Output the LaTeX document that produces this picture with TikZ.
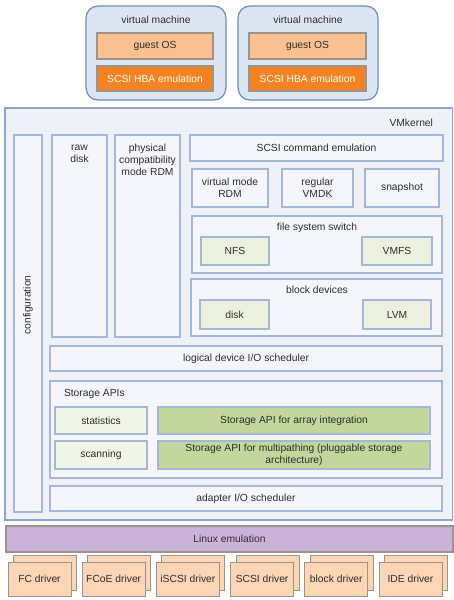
\documentclass[tikz,border=0pt]{standalone}
\usepackage{fontspec}
\setmainfont{Liberation Sans}
\definecolor{vmfill}{HTML}{DCE6F2}
\definecolor{vmdraw}{HTML}{6A8CC0}
\definecolor{kfill}{HTML}{EEF2F8}
\definecolor{kdraw}{HTML}{8EA7CF}
\definecolor{ifill}{HTML}{F4F6FB}
\definecolor{idraw}{HTML}{A3B7D8}
\definecolor{osfill}{HTML}{FAC08F}
\definecolor{hbafill}{HTML}{F58220}
\definecolor{grayd}{HTML}{9A948C}
\definecolor{lgfill}{HTML}{EBF1DE}
\definecolor{lgfill2}{HTML}{F1F5E8}
\definecolor{gfill}{HTML}{C3D69B}
\definecolor{pfill}{HTML}{CBB3D8}
\definecolor{drvfill}{HTML}{FCD5B5}
\definecolor{txt}{HTML}{2E2E2E}
\newcommand\bx[7]{\node[#6, minimum width={#4-#2}, minimum height={#5-#3}] (#1) at ({(#2+#4)/2},{(#3+#5)/2}) {#7};}
\tikzset{
  base/.style={inner sep=0pt, outer sep=0pt, align=center, text=txt, font=\fontsize{10.3}{11.8}\selectfont},
  vmbox/.style={base, fill=vmfill, draw=vmdraw, line width=1.2pt, rounded corners=12pt},
  kbox/.style={base, fill=kfill, draw=kdraw, line width=1.5pt},
  ibox/.style={base, fill=ifill, draw=idraw, line width=1.1pt},
  osbox/.style={base, fill=osfill, draw=grayd, line width=1.1pt},
  hbabox/.style={base, fill=hbafill, draw=grayd, line width=1.1pt, text=white},
  fsbox/.style={base, fill=lgfill, draw=idraw, line width=1.1pt},
  stbox/.style={base, fill=lgfill2, draw=idraw, line width=1.1pt},
  apibox/.style={base, fill=gfill, draw=idraw, line width=1.1pt},
  linbox/.style={base, fill=pfill, draw=grayd, line width=1.1pt},
  drvbox/.style={base, fill=drvfill, draw=grayd, line width=1pt},
  lbl/.style={base}
}
\begin{document}
\begin{tikzpicture}[x=1pt,y=-1pt]
\useasboundingbox (0,0) rectangle (454,600);
% virtual machines
\bx{vm1}{86}{6}{226}{100}{vmbox}{}
\node[lbl] (vm1l) at (156,20) {virtual machine};
\bx{os1}{97}{33}{213}{59}{osbox}{guest OS}
\bx{hba1}{97}{66}{213}{91}{hbabox}{SCSI HBA emulation}
\bx{vm2}{238}{6}{378}{100}{vmbox}{}
\node[lbl] (vm2l) at (308,20) {virtual machine};
\bx{os2}{249}{33}{366}{59}{osbox}{guest OS}
\bx{hba2}{249}{66}{366}{91}{hbabox}{SCSI HBA emulation}
% VMkernel
\bx{vmk}{5}{108}{452.5}{520}{kbox}{}
\node[lbl, anchor=east] (vmkl) at (433,123) {VMkernel};
\bx{conf}{14}{135}{42}{512}{ibox}{}
\node[lbl, rotate=90] (confl) at (28,305) {configuration};
\bx{raw}{52}{135}{107}{337}{ibox}{}
\node[lbl, anchor=north] (rawl) at (79.5,145) {raw\\disk};
\bx{phys}{115}{135}{180}{337}{ibox}{}
\node[lbl, anchor=north] (physl) at (147.5,144) {physical\\compatibility\\mode RDM};
\bx{scsi}{190}{135}{443}{161}{ibox}{SCSI command emulation}
\bx{vrdm}{192}{169}{268}{207}{ibox}{virtual mode\\RDM}
\bx{vmdk}{282}{169}{353}{207}{ibox}{regular\\VMDK}
\bx{snap}{365}{169}{439}{207}{ibox}{snapshot}
\bx{fss}{192}{216}{442}{273}{ibox}{}
\node[lbl] (fssl) at (317,228) {file system switch};
\bx{nfs}{201}{237}{269}{265}{fsbox}{NFS}
\bx{vmfs}{362}{237}{432}{265}{fsbox}{VMFS}
\bx{blk}{191}{279}{442}{336}{ibox}{}
\node[lbl] (blkl) at (317,290) {block devices};
\bx{disk}{200}{300}{269}{329}{fsbox}{disk}
\bx{lvm}{363}{300}{431}{329}{fsbox}{LVM}
\bx{ldio}{50}{346}{442}{371}{ibox}{logical device I/O scheduler}
\bx{sapi}{50}{381}{442}{478}{ibox}{}
\node[lbl, anchor=west] (sapil) at (64,394) {Storage APIs};
\bx{stat}{55}{407}{147}{434}{stbox}{statistics}
\bx{sarr}{158}{407}{430}{434}{apibox}{Storage API for array integration}
\bx{scan}{55}{441}{147}{469}{stbox}{scanning}
\bx{smp}{158}{441}{430}{469}{apibox}{Storage API for multipathing (pluggable storage\\architecture)}
\bx{adio}{50}{486}{442}{511}{ibox}{adapter I/O scheduler}
% Linux emulation
\bx{lin}{6}{526}{453}{552}{linbox}{Linux emulation}
% drivers
\foreach \i/\t in {0/FC driver,1/FCoE driver,2/iSCSI driver,3/SCSI driver,4/block driver,5/IDE driver}{
  \pgfmathsetmacro\xa{8+74.2*\i}
  \pgfmathsetmacro\xb{\xa+63}
  \pgfmathsetmacro\xc{\xa+5.5}
  \pgfmathsetmacro\xd{\xb+5.5}
  \bx{drvb\i}{\xc}{555}{\xd}{590}{drvbox}{}
  \bx{drv\i}{\xa}{562}{\xb}{596}{drvbox}{\t}
}
\end{tikzpicture}
\end{document}
